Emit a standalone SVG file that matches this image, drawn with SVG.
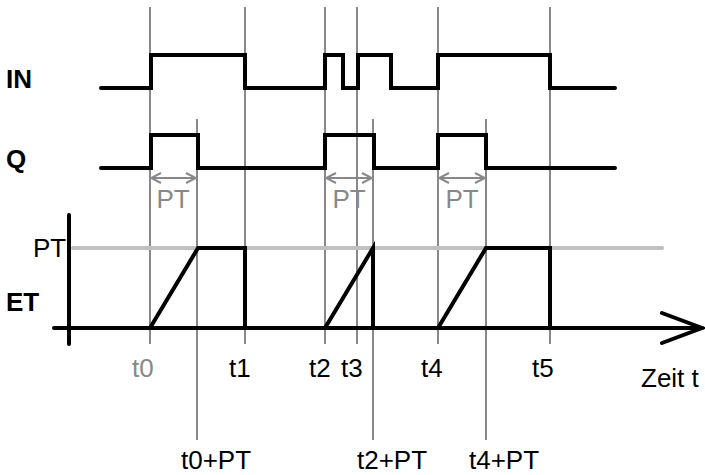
<svg xmlns="http://www.w3.org/2000/svg" width="705" height="475" viewBox="0 0 705 475">
<defs>
<style>
.grid{stroke:#888;stroke-width:2;fill:none}
.sig{stroke:#000;stroke-width:4;fill:none;stroke-linecap:round;stroke-linejoin:miter}
.pt{stroke:#c0c0c0;stroke-width:4;fill:none;stroke-linecap:round}
.dim{stroke:#888;stroke-width:2;fill:none}
.lbl{font-family:"Liberation Sans",Arial,sans-serif;font-size:26px;fill:#000}
.bold{font-weight:bold}
.grey{fill:#888}
</style>
<marker id="chev" viewBox="0 0 12 12" refX="11" refY="6" markerWidth="12" markerHeight="12" markerUnits="userSpaceOnUse" orient="auto-start-reverse">
<path d="M1,1 L11,6 L1,11" fill="none" stroke="#888" stroke-width="2"/>
</marker>
</defs>
<rect width="705" height="475" fill="#fff"/>
<g id="connectors">
<g id="gridlines">
<line class="grid" x1="150" y1="7" x2="150" y2="344"/>
<line class="grid" x1="245" y1="7" x2="245" y2="344"/>
<line class="grid" x1="325" y1="7" x2="325" y2="344"/>
<line class="grid" x1="357" y1="7" x2="357" y2="344"/>
<line class="grid" x1="438" y1="7" x2="438" y2="344"/>
<line class="grid" x1="550" y1="7" x2="550" y2="344"/>
<line class="grid" x1="197" y1="119" x2="197" y2="440"/>
<line class="grid" x1="373" y1="119" x2="373" y2="440"/>
<line class="grid" x1="486" y1="119" x2="486" y2="440"/>
</g>
<g id="pt-dims">
<line class="dim" x1="151" y1="178" x2="196" y2="178" marker-start="url(#chev)" marker-end="url(#chev)"/>
<line class="dim" x1="326" y1="178" x2="372" y2="178" marker-start="url(#chev)" marker-end="url(#chev)"/>
<line class="dim" x1="439" y1="178" x2="485" y2="178" marker-start="url(#chev)" marker-end="url(#chev)"/>
</g>
</g>
<g id="IN-signal">
<polyline class="sig" points="101,88 151,88 151,55 245,55 245,88 325,88 325,55 343,55 343,88 358,88 358,55 391,55 391,88 438,88 438,55 550,55 550,88 615,88"/>
</g>
<g id="Q-signal">
<polyline class="sig" points="101,168 151,168 151,135 198,135 198,168 325,168 325,135 374,135 374,168 438,168 438,135 486,135 486,168 615,168"/>
</g>
<g id="ET-chart">
<line class="pt" x1="73" y1="248" x2="662" y2="248"/>
<line class="sig" x1="69" y1="215" x2="69" y2="344"/>
<line class="sig" x1="54" y1="328" x2="702" y2="328"/>
<polyline class="sig" points="662,313 702,328 662,343"/>
<polyline class="sig" points="150,328 198,248 245,248 245,328"/>
<polyline class="sig" points="325,328 373,248 373,328"/>
<polyline class="sig" points="438,328 486,248 550,248 550,328"/>
</g>
<g id="labels">
<text class="lbl bold" x="6" y="88">IN</text>
<text class="lbl bold" x="6" y="168">Q</text>
<text class="lbl" x="33" y="256.5">PT</text>
<text class="lbl bold" x="6" y="311">ET</text>
<text class="lbl grey" x="173" y="208" text-anchor="middle">PT</text>
<text class="lbl grey" x="349" y="208" text-anchor="middle">PT</text>
<text class="lbl grey" x="462" y="208" text-anchor="middle">PT</text>
<text class="lbl grey" x="132" y="376.5">t0</text>
<text class="lbl" x="229" y="376.5">t1</text>
<text class="lbl" x="309" y="376.5">t2</text>
<text class="lbl" x="341" y="376.5">t3</text>
<text class="lbl" x="421" y="376.5">t4</text>
<text class="lbl" x="532" y="376.5">t5</text>
<text class="lbl" x="181" y="469">t0+PT</text>
<text class="lbl" x="357" y="469">t2+PT</text>
<text class="lbl" x="469" y="469">t4+PT</text>
<text class="lbl" x="641" y="387">Zeit t</text>
</g>
</svg>
